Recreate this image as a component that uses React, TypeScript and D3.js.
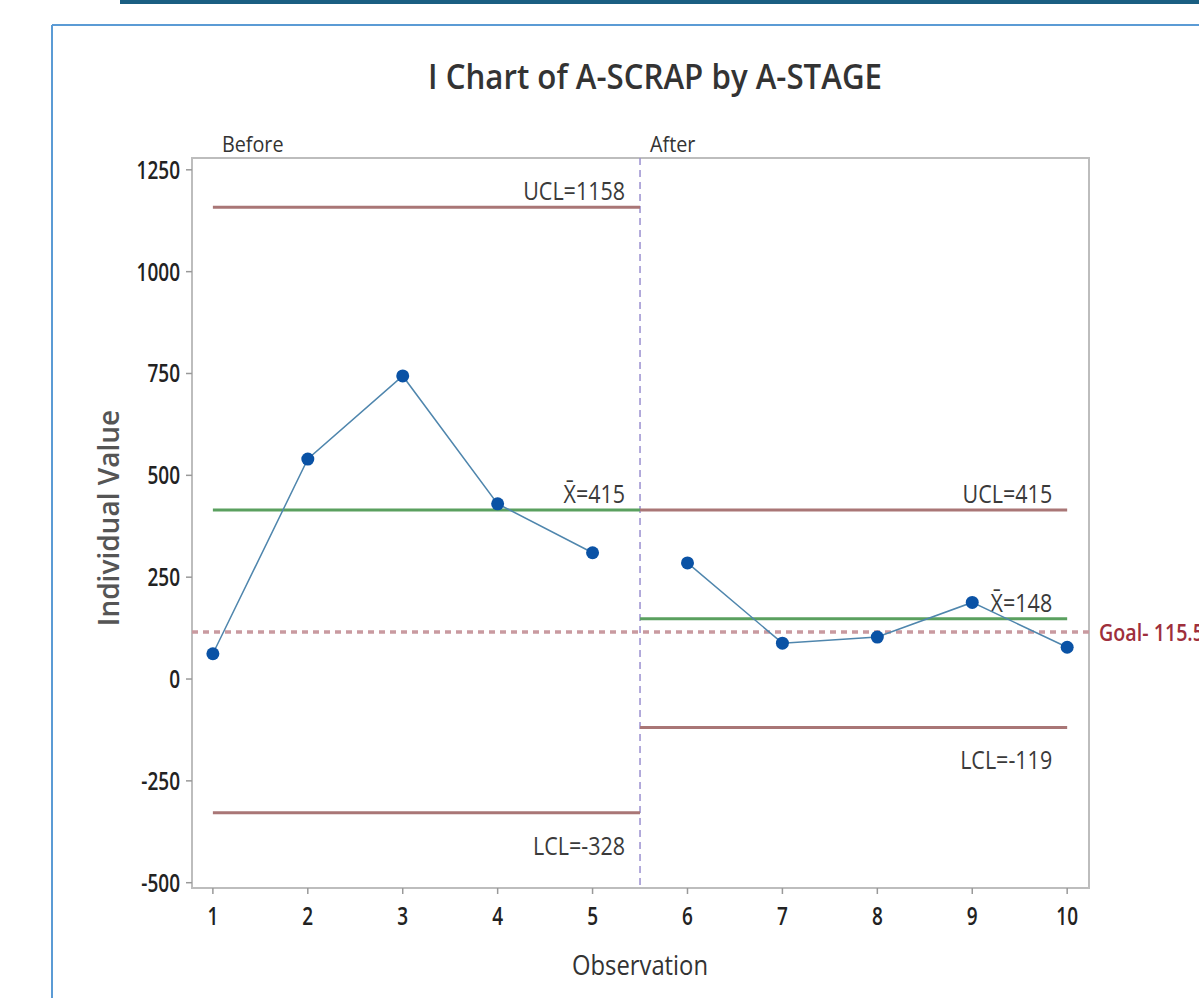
import React from "react";
import * as d3 from "d3";

const observations = [1, 2, 3, 4, 5, 6, 7, 8, 9, 10];
const scrapValues = [62, 540, 744, 430, 310, 285, 88, 103, 188, 78];
const stages = ["Before", "Before", "Before", "Before", "Before", "After", "After", "After", "After", "After"];
const stageNames = ["Before", "After"];
const stageUCL = [1158, 415];
const stageMean = [415, 148];
const stageLCL = [-328, -119];
const goal = 115.5;
const yTicks = [-500, -250, 0, 250, 500, 750, 1000, 1250];

const W = 1199, H = 998;
const left = 192, right = 1089, top = 158, bottom = 888;
const FONT = "'Open Sans', 'Noto Sans', sans-serif";

type TProps = {
  x: number; y: number; sx?: number; anchor?: "start" | "middle" | "end";
  size: number; weight?: number; fill?: string; rotate?: number; children: React.ReactNode;
};
function T({ x, y, sx = 0.85, anchor = "start", size, weight = 400, fill = "#333", rotate = 0, children }: TProps) {
  return (
    <text
      transform={`translate(${x},${y}) rotate(${rotate}) scale(${sx},1)`}
      textAnchor={anchor}
      fontFamily={FONT}
      fontSize={size}
      fontWeight={weight}
      fill={fill}
    >
      {children}
    </text>
  );
}

export default function App() {
  const x = d3.scaleLinear().domain([0.78, 10.23]).range([left, right]);
  const y = d3.scaleLinear().domain([-513, 1279]).range([bottom, top]);
  const line = d3
    .line<[number, number]>()
    .x((d) => x(d[0]))
    .y((d) => y(d[1]));

  const stageIdx = stageNames.map((s) => stages.map((st, i) => (st === s ? i : -1)).filter((i) => i >= 0));
  const stageRanges = stageIdx.map((idx) => [observations[idx[0]], observations[idx[idx.length - 1]]]);
  const split = (stageRanges[0][1] + stageRanges[1][0]) / 2;
  const segStart = (k: number) => (k === 0 ? x(stageRanges[0][0]) : x(split));
  const segEnd = (k: number) => (k === 0 ? x(split) : x(stageRanges[1][1]));
  const labelX = (k: number) => segEnd(k) - 15;

  const limitColor = "#a97676";
  const meanColor = "#5aa05f";
  const textColor = "#3a3a3a";

  return (
    <svg width={W} height={H} style={{ position: "absolute", left: 0, top: 0, background: "#fff" }}>
      <rect x={120} y={0} width={W - 120} height={4} fill="#1a5f82" />
      <line x1={52} y1={25} x2={W} y2={25} stroke="#5b9bd5" strokeWidth={2} />
      <line x1={52} y1={25} x2={52} y2={H} stroke="#5b9bd5" strokeWidth={2} />

      <text x={655} y={89} textAnchor="middle" fontFamily={FONT} fontSize={35} fontWeight={600} fill="#333" textLength={454} lengthAdjust="spacingAndGlyphs">
        I Chart of A-SCRAP by A-STAGE
      </text>

      <rect x={left} y={top} width={right - left} height={bottom - top} fill="none" stroke="#bdbdbd" strokeWidth={2} />

      {yTicks.map((t) => (
        <g key={t}>
          <line x1={left - 6} x2={left} y1={y(t)} y2={y(t)} stroke="#999" strokeWidth={1.5} />
          <T x={left - 12} y={y(t) + 9} anchor="end" size={25} weight={600} sx={0.76} fill="#222">{t}</T>
        </g>
      ))}
      {observations.map((o) => (
        <g key={o}>
          <line x1={x(o)} x2={x(o)} y1={bottom} y2={bottom + 6} stroke="#999" strokeWidth={1.5} />
          <T x={x(o)} y={bottom + 37} anchor="middle" size={25} weight={600} sx={0.76} fill="#222">{o}</T>
        </g>
      ))}

      <T x={119} y={518} rotate={-90} anchor="middle" size={28} weight={600} sx={1.0} fill="#555">
        Individual Value
      </T>
      <T x={640} y={975} anchor="middle" size={28} sx={0.85} fill="#333">Observation</T>

      <T x={x(stageRanges[0][0]) + 9} y={152} size={22} sx={0.9}>{stageNames[0]}</T>
      <T x={x(split) + 10} y={152} size={22} sx={0.9}>{stageNames[1]}</T>

      <line x1={x(split)} x2={x(split)} y1={top} y2={bottom} stroke="#9a8fd0" strokeWidth={1.5} strokeDasharray="7,5" />

      <line x1={left} x2={right} y1={y(goal)} y2={y(goal)} stroke="#c99aa0" strokeWidth={3.5} strokeDasharray="6,5" />
      <T x={right + 10} y={y(goal) + 9} size={24} weight={600} sx={0.82} fill="#9e2f3c">Goal- {goal}</T>

      {stageNames.map((s, k) => (
        <g key={s}>
          <line x1={segStart(k)} x2={segEnd(k)} y1={y(stageUCL[k])} y2={y(stageUCL[k])} stroke={limitColor} strokeWidth={3} />
          <line x1={segStart(k)} x2={segEnd(k)} y1={y(stageMean[k])} y2={y(stageMean[k])} stroke={meanColor} strokeWidth={3} />
          <line x1={segStart(k)} x2={segEnd(k)} y1={y(stageLCL[k])} y2={y(stageLCL[k])} stroke={limitColor} strokeWidth={3} />
          <T x={labelX(k)} y={y(stageUCL[k]) - 7} anchor="end" size={25} sx={0.86} fill={textColor}>UCL={stageUCL[k]}</T>
          <T x={labelX(k)} y={y(stageMean[k]) - 7} anchor="end" size={25} sx={0.86} fill={textColor}>
            {"X\u0304"}={stageMean[k]}
          </T>
          <T x={labelX(k)} y={y(stageLCL[k]) + 42} anchor="end" size={25} sx={0.86} fill={textColor}>LCL={stageLCL[k]}</T>
        </g>
      ))}

      {stageIdx.map((idx, k) => (
        <path
          key={k}
          d={line(idx.map((i) => [observations[i], scrapValues[i]] as [number, number])) || ""}
          fill="none"
          stroke="#4f86ad"
          strokeWidth={1.5}
        />
      ))}
      {scrapValues.map((v, i) => (
        <circle key={i} cx={x(observations[i])} cy={y(v)} r={6.5} fill="#0a52a5" />
      ))}
    </svg>
  );
}
